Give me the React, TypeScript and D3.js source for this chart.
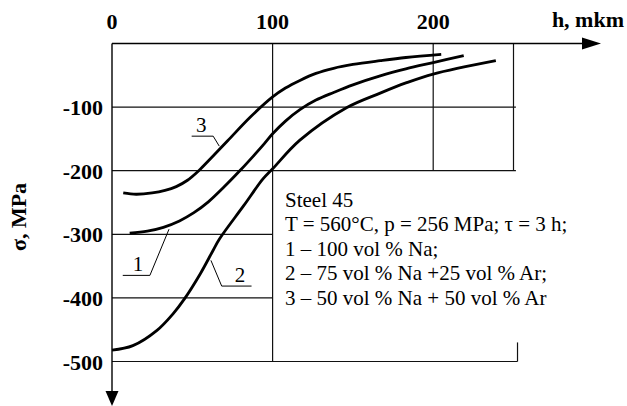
import React from "react";
import * as d3 from "d3";

// Residual stress σ (MPa) vs depth h (mkm), Steel 45
const curve1H = [11, 22, 32, 42, 51, 60, 70, 80, 88, 95, 100, 108, 117, 127, 138, 150, 167, 183, 200, 219];
const curve1S = [-298, -295, -289, -279, -266, -249, -225, -199, -177, -157, -142, -122, -104, -89, -77, -65, -51, -40, -30, -19];

const curve2H = [0, 13, 28, 38, 45, 55, 63, 67, 82, 94, 100, 117, 146, 167, 183, 200, 239];
const curve2S = [-482, -475, -451, -425, -402, -362, -325, -307, -255, -213, -197, -152, -101, -78, -62, -48, -27];

const curve3H = [7, 15, 25, 33, 40, 47, 54, 61, 72, 86, 100, 108, 117, 127, 138, 150, 167, 183, 205];
const curve3S = [-235, -237, -235, -231, -225, -215, -200, -182, -153, -116, -84, -70, -58, -47, -39, -33, -27, -22, -17];

const hTicks = [0, 100, 200];
const sTicks = [-100, -200, -300, -400, -500];

const legendLines = [
  "Steel 45",
  "T = 560\u00B0C, p = 256 MPa; \u03C4 = 3 h;",
  "1 \u2013 100 vol % Na;",
  "2 \u2013 75 vol % Na +25 vol % Ar;",
  "3 \u2013 50 vol % Na + 50 vol % Ar",
];

// Curve callouts: label, text h, underline from/to h, underline σ, leader end (h, σ)
const calloutLabels = ["1", "2", "3"];
const calloutTextH = [16.2, 79.7, 55.5];
const calloutLineH0 = [6.7, 86.9, 49.6];
const calloutLineH1 = [23.6, 68.3, 63];
const calloutLineS = [-364.6, -381.4, -145.7];
const calloutEndH = [35.5, 61.6, 66.8];
const calloutEndS = [-292, -341, -161.4];

const W = 627;
const H = 406;
const serifStyle = { fontFamily: "'Liberation Serif'" };

export default function App() {
  const x = d3.scaleLinear().domain([0, 250]).range([112, 513.5]);
  const y = d3.scaleLinear().domain([0, -500]).range([43.5, 361.5]);

  const line = d3
    .line<[number, number]>()
    .x((d) => x(d[0]))
    .y((d) => y(d[1]))
    .curve(d3.curveCatmullRom.alpha(0.5));

  const series = [
    curve1H.map((h, i) => [h, curve1S[i]] as [number, number]),
    curve2H.map((h, i) => [h, curve2S[i]] as [number, number]),
    curve3H.map((h, i) => [h, curve3S[i]] as [number, number]),
  ];

  const gridColor = "#111";
  const x0 = x(0);
  const y0 = y(0);
  const arrowRight = 601;
  const arrowBottom = 406;

  return (
    <svg
      width={W}
      height={H}
      style={{ position: "absolute", left: 0, top: 0, display: "block", background: "#fff" }}
    >
      <rect width={W} height={H} fill="#fff" />

      {/* grid */}
      <g stroke={gridColor} strokeWidth={1.2} fill="none">
        {[-100, -200].map((s) => (
          <line key={s} x1={x0} x2={x(251.5)} y1={y(s)} y2={y(s)} />
        ))}
        {[-300, -400].map((s) => (
          <line key={s} x1={x0} x2={x(100)} y1={y(s)} y2={y(s)} />
        ))}
        <line x1={x0} x2={x(252.5)} y1={y(-500)} y2={y(-500)} />
        <line x1={x(252.5)} x2={x(252.5)} y1={y(-470)} y2={y(-500)} />
        <line x1={x(100)} x2={x(100)} y1={y0} y2={y(-500)} />
        {[200, 250].map((h) => (
          <line key={h} x1={x(h)} x2={x(h)} y1={y0} y2={y(-200)} />
        ))}
      </g>

      {/* axes with arrows */}
      <g stroke="#000" strokeWidth={1.4} fill="none">
        <line x1={x0} x2={arrowRight - 16} y1={y0} y2={y0} />
        <line x1={x0} y1={y0} x2={x0} y2={arrowBottom - 12} />
      </g>
      <path
        d={`M${arrowRight},${y0} L${arrowRight - 19},${y0 - 6} L${arrowRight - 19},${y0 + 6} Z`}
        fill="#000"
      />
      <path
        d={`M${x0},${arrowBottom} L${x0 - 6.5},${arrowBottom - 15} L${x0 + 6.5},${arrowBottom - 15} Z`}
        fill="#000"
      />

      {/* tick labels and axis titles */}
      <g fill="#000">
        {hTicks.map((h) => (
          <text key={h} x={x(h)} y={29} textAnchor="middle" fontSize={22} fontWeight="bold" style={serifStyle}>
            {String(h)}
          </text>
        ))}
        {sTicks.map((s) => (
          <text key={s} x={103} y={y(s) + 8} textAnchor="end" fontSize={22} fontWeight="bold" style={serifStyle}>
            {String(s)}
          </text>
        ))}
        <text x={624} y={27} textAnchor="end" fontSize={22} fontWeight="bold" style={serifStyle}>
          h, mkm
        </text>
        <text
          transform="translate(26,217) rotate(-90)"
          textAnchor="middle"
          fontSize={22}
          fontWeight="bold"
          style={serifStyle}
        >
          σ, MPa
        </text>
      </g>

      {/* curves */}
      <g fill="none" stroke="#000" strokeWidth={2.8} strokeLinecap="butt">
        {series.map((d, i) => (
          <path key={i} d={line(d) ?? ""} />
        ))}
      </g>

      {/* callouts */}
      <g fill="#000">
        {calloutLabels.map((lab, i) => {
          const ly = y(calloutLineS[i]);
          return (
            <g key={lab}>
              <polyline
                points={`${x(calloutLineH0[i])},${ly} ${x(calloutLineH1[i])},${ly} ${x(calloutEndH[i])},${y(calloutEndS[i])}`}
                fill="none"
                stroke="#000"
                strokeWidth={1}
              />
              <text x={x(calloutTextH[i])} y={ly - 4.5} textAnchor="middle" fontSize={21} style={serifStyle}>
                {lab}
              </text>
            </g>
          );
        })}
      </g>

      {/* legend */}
      <g fill="#000">
        {legendLines.map((t, i) => (
          <text key={i} x={285} y={206.5 + i * 24.5} fontSize={21} style={serifStyle}>
            {t}
          </text>
        ))}
      </g>
    </svg>
  );
}
